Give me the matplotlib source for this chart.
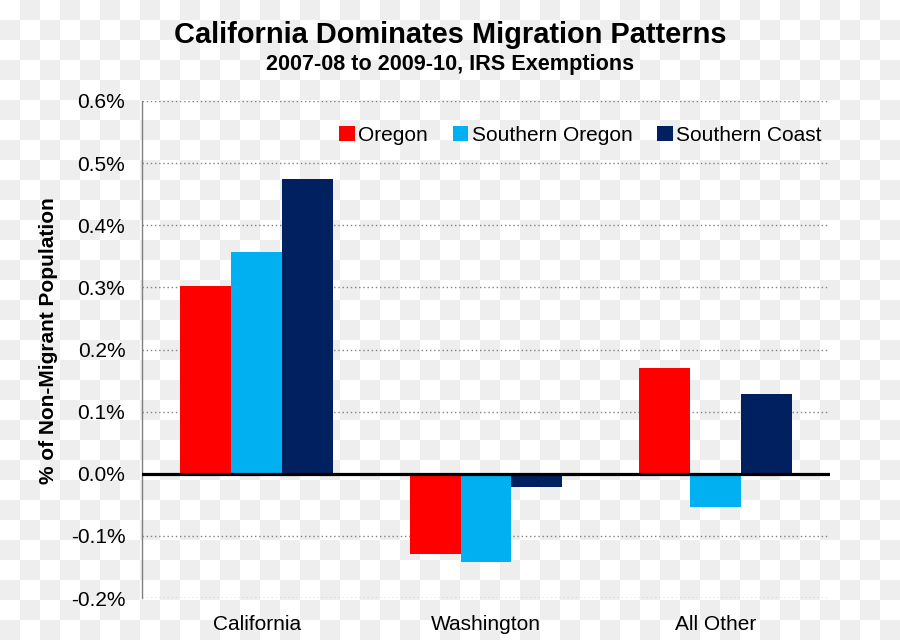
import numpy as np
import matplotlib
matplotlib.use("Agg")
import matplotlib.pyplot as plt
from matplotlib.ticker import FuncFormatter

plt.rcParams['font.family'] = ['Liberation Sans', 'DejaVu Sans']

# data (% of non-migrant population)
categories = ["California", "Washington", "All Other"]
series = ["Oregon", "Southern Oregon", "Southern Coast"]
oregon = [0.303, -0.129, 0.171]
southern_oregon = [0.357, -0.142, -0.053]
southern_coast = [0.475, -0.022, 0.129]
colors = ["#FF0000", "#00B0F0", "#002060"]

fig = plt.figure(figsize=(9, 6.4), dpi=100)

# checkered background as in the reference image
yy, xx = np.indices((640, 900))
check = ((yy // 20 + xx // 20) % 2).astype(float)
bg = np.ones((640, 900, 3))
bg[check == 1] = 0xEE / 255
fig.figimage(bg, xo=0, yo=0, origin="upper", zorder=-10)

ax = fig.add_axes([0.1578, 0.0656, 0.7644, 0.7766])
ax.set_facecolor("none")

x = np.arange(len(categories))
w = 0.222
for i, (vals, name) in enumerate(zip([oregon, southern_oregon, southern_coast], series)):
    ax.bar(x + (i - 1) * w, vals, width=w, color=colors[i], label=name, zorder=3)

ax.set_xlim(-0.5, 2.5)
ax.set_ylim(-0.2, 0.6)
ax.set_yticks(np.arange(-0.2, 0.61, 0.1))
ax.yaxis.set_major_formatter(FuncFormatter(lambda v, p: f"{v:.1f}%"))
ax.set_xticks(x)
ax.set_xticklabels(categories)
ax.tick_params(axis="y", length=0, pad=12, labelsize=15)
ax.tick_params(axis="x", length=0, pad=12, labelsize=15)

ax.grid(axis="y", color="#808080", linestyle=(0, (1, 2)), linewidth=1, zorder=1)
ax.axhline(0, color="black", linewidth=2.3, zorder=4)
for s in ["top", "right", "bottom"]:
    ax.spines[s].set_visible(False)
ax.spines["left"].set_color("#808080")
ax.spines["left"].set_linewidth(1)

ax.set_ylabel("% of Non-Migrant Population", fontsize=15, fontweight="bold")
ax.yaxis.set_label_coords(-0.122, 0.517)

ax.legend(loc="center right", bbox_to_anchor=(1.015, 0.931), ncol=3, frameon=False,
          fontsize=15, handlelength=0.75, handleheight=0.75, handletextpad=0.15,
          columnspacing=1.2)

fig.text(0.5, 0.946, "California Dominates Migration Patterns", ha="center", va="center",
         fontsize=20.9, fontweight="bold")
fig.text(0.5, 0.899, "2007-08 to 2009-10, IRS Exemptions", ha="center", va="center",
         fontsize=15.6, fontweight="bold")

fig.savefig("out.png", dpi=100)
